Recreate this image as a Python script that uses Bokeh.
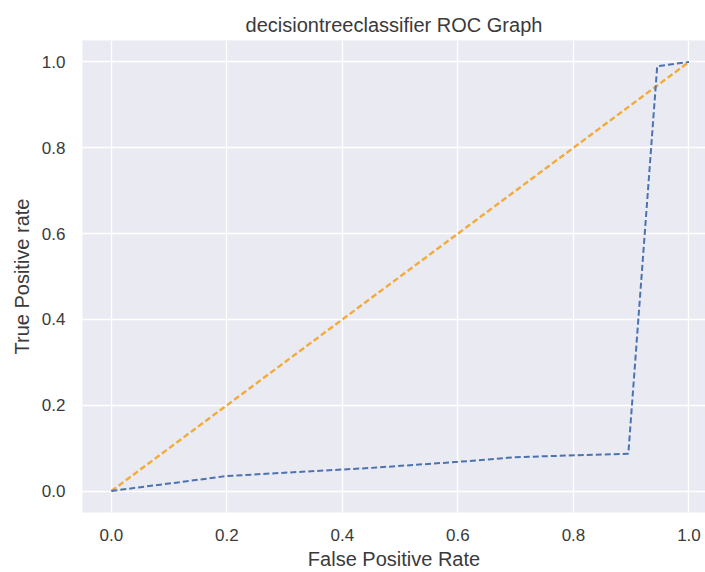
from bokeh.plotting import figure
from bokeh.models import FixedTicker, Range1d
from bokeh.embed import file_html
from bokeh.resources import INLINE

# ROC curve of the decision tree
fpr = [0.0, 0.05, 0.12, 0.2, 0.33, 0.45, 0.6, 0.7, 0.895, 0.945, 1.0]
tpr = [0.0, 0.009, 0.021, 0.035, 0.045, 0.054, 0.068, 0.079, 0.087, 0.99, 1.0]
# chance diagonal
diag_x = [0.0, 1.0]
diag_y = [0.0, 1.0]

x_ticks = [0.0, 0.2, 0.4, 0.6, 0.8, 1.0]
x_tick_labels = ["0.0", "0.2", "0.4", "0.6", "0.8", "1.0"]
y_ticks = [0.0, 0.2, 0.4, 0.6, 0.8, 1.0]
y_tick_labels = ["0.0", "0.2", "0.4", "0.6", "0.8", "1.0"]

FONT = "Liberation Sans"
TXT = "#3a3a3a"

p = figure(width=705, height=572, output_backend="svg", toolbar_location=None,
           x_range=Range1d(-0.050, 1.0286), y_range=Range1d(-0.05, 1.05),
           min_border_left=82, min_border_right=0, min_border_top=40, min_border_bottom=60,
           title="decisiontreeclassifier ROC Graph")

p.background_fill_color = "#eaeaf2"
p.border_fill_color = "white"
p.outline_line_color = None

p.title.align = "center"
p.title.text_font = FONT
p.title.text_font_size = "20px"
p.title.text_font_style = "normal"
p.title.text_color = TXT
p.title.standoff = 10

p.xgrid.grid_line_color = "white"
p.ygrid.grid_line_color = "white"
p.xgrid.grid_line_width = 1.3
p.ygrid.grid_line_width = 1.3

p.xaxis.ticker = FixedTicker(ticks=x_ticks)
p.yaxis.ticker = FixedTicker(ticks=y_ticks)
p.xaxis.major_label_overrides = {t: l for t, l in zip(x_ticks, x_tick_labels)}
p.yaxis.major_label_overrides = {t: l for t, l in zip(y_ticks, y_tick_labels)}

for ax in (p.xaxis, p.yaxis):
    ax.axis_line_color = None
    ax.major_tick_line_color = None
    ax.minor_tick_line_color = None
    ax.major_tick_out = 0
    ax.major_tick_in = 0
    ax.minor_tick_out = 0
    ax.minor_tick_in = 0
    ax.major_label_text_font = FONT
    ax.major_label_text_font_size = "17px"
    ax.major_label_text_color = TXT
    ax.axis_label_text_font = FONT
    ax.axis_label_text_font_size = "20px"
    ax.axis_label_text_font_style = "normal"
    ax.axis_label_text_color = TXT

p.xaxis.axis_label = "False Positive Rate"
p.yaxis.axis_label = "True Positive rate"
p.xaxis.major_label_standoff = 16
p.xaxis.axis_label_standoff = 4
p.yaxis.major_label_standoff = 17
p.yaxis.axis_label_standoff = 6

p.line(diag_x, diag_y, line_color="#f2ab3a", line_width=2.4, line_dash="6 3")
p.line(fpr, tpr, line_color="#4c72b0", line_width=2.0, line_dash="6 3")

open("out.html", "w").write(file_html(p, INLINE))
